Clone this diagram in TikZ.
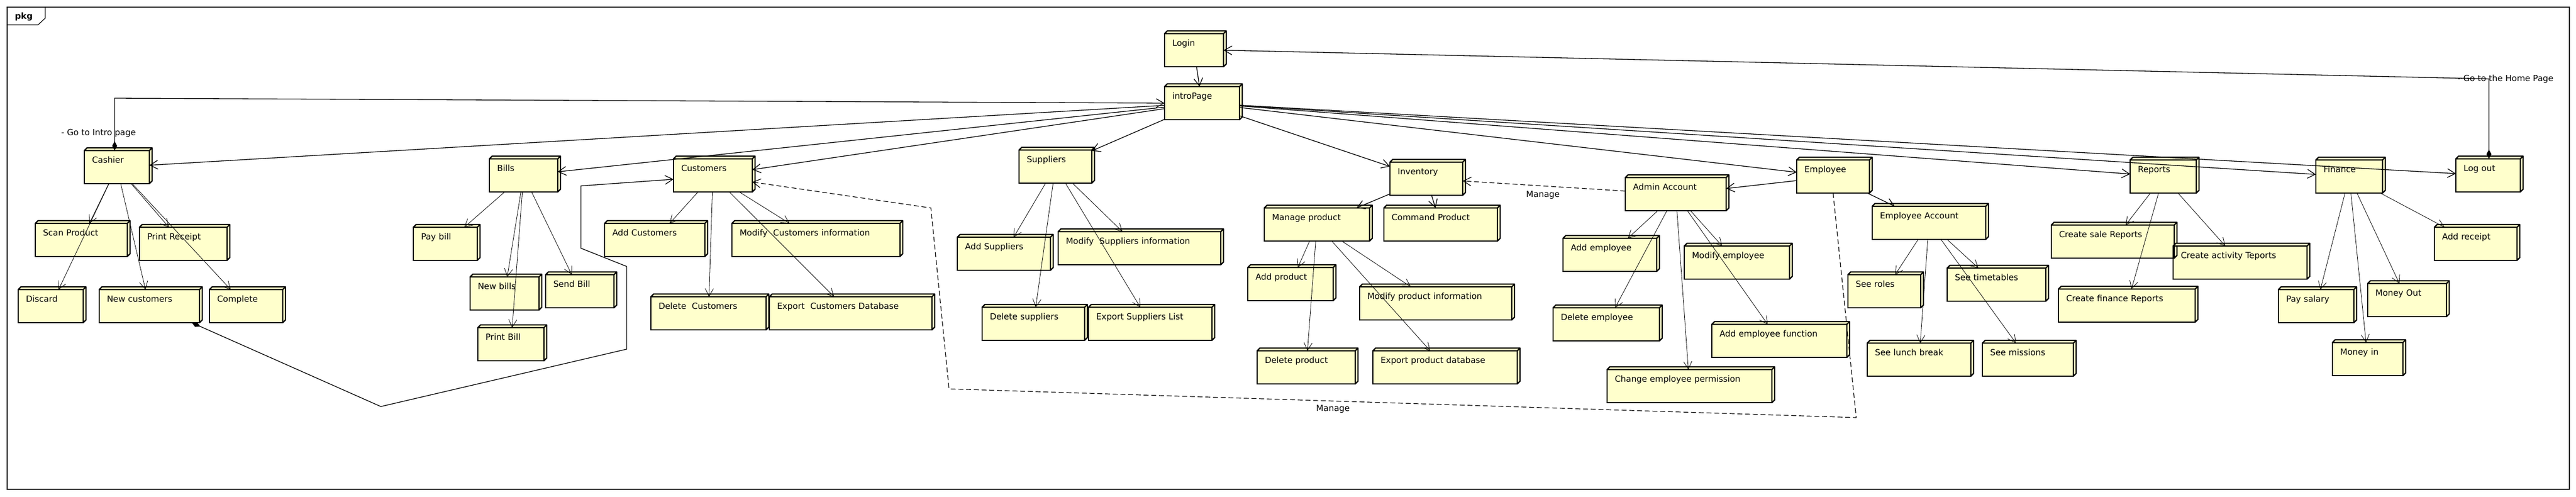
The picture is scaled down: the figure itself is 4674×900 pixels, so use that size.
\documentclass[tikz,border=0pt]{standalone}
\usepackage{fontspec}
\setmainfont{DejaVu Sans}
\usepackage{tikz}
\usetikzlibrary{arrows.meta}
\definecolor{nodefill}{RGB}{255,255,204}

\begin{document}
\begin{tikzpicture}[x=1pt,y=-1pt]
\tikzstyle{pnode}=[rectangle, draw=black, line width=2.3pt, fill=nodefill, anchor=north west, outer sep=0pt, inner xsep=14pt, inner ysep=0pt, text height=22pt, text depth=38pt, align=left, font=\fontsize{15.3}{18}\selectfont]
\tikzstyle{nodeface}=[draw=black, line width=2.3pt, fill=nodefill, line join=round]
\tikzstyle{pkgframe}=[draw=black, line width=1.2pt]
\tikzstyle{linklabel}=[anchor=base west, inner sep=0pt, font=\fontsize{15.3}{18}\selectfont]
\tikzstyle{link}=[draw, line width=1.3pt, -{Straight Barb[length=14pt,width=16pt]}]
\tikzstyle{sub}=[draw, line width=0.8pt, -{Straight Barb[length=14pt,width=15pt]}]
\tikzstyle{manage}=[draw, line width=1.2pt, dash pattern=on 9pt off 5pt, -{Straight Barb[length=14pt,width=16pt]}]
\tikzstyle{compose}=[draw, line width=1.3pt, {Diamond[length=17pt,width=9pt]}-{Straight Barb[length=14pt,width=16pt]}]

\fill[white] (0,0) rectangle (4674,900);
\useasboundingbox (0,0) rectangle (4674,900);
\draw[pkgframe] (13,13) rectangle (4662,887);
\draw[pkgframe] (13,45) -- (69,45) -- (82,33) -- (82,13);
\node[anchor=base west, inner sep=0pt, font=\bfseries\fontsize{15.3}{18}\selectfont] (pkgtitle) at (27,34) {pkg};

	\node[pnode, text width=79pt] (login) at (2113,61) {Login};
	\node[pnode, text width=108pt] (intro) at (2113,157) {introPage};
	\node[pnode, text width=90pt] (cashier) at (153,273) {Cashier};
	\node[pnode, text width=139pt] (scan) at (64,405) {Scan Product};
	\node[pnode, text width=131pt] (receipt) at (253,412) {Print Receipt};
	\node[pnode, text width=90pt] (discard) at (33,525) {Discard};
	\node[pnode, text width=154pt] (newcust) at (180,525) {New customers};
	\node[pnode, text width=105pt] (complete) at (380,525) {Complete};
	\node[pnode, text width=96pt] (bills) at (888,288) {Bills};
	\node[pnode, text width=88pt] (paybill) at (750,412) {Pay bill};
	\node[pnode, text width=97pt] (newbills) at (853,502) {New bills};
	\node[pnode, text width=96pt] (sendbill) at (990,498) {Send Bill};
	\node[pnode, text width=92pt] (printbill) at (867,594) {Print Bill};
	\node[pnode, text width=115pt] (customers) at (1222,288) {Customers};
	\node[pnode, text width=154pt] (addcust) at (1097,405) {Add Customers};
	\node[pnode, text width=277pt] (modcust) at (1328,405) {Modify\ \ Customers information};
	\node[pnode, text width=181pt] (delcust) at (1181,538) {Delete\ \ Customers};
	\node[pnode, text width=267pt] (expcust) at (1396,538) {Export\ \ Customers Database};
	\node[pnode, text width=104pt] (suppliers) at (1849,272) {Suppliers};
	\node[pnode, text width=141pt] (addsup) at (1737,430) {Add Suppliers};
	\node[pnode, text width=267pt] (modsup) at (1920,420) {Modify\ \ Suppliers information};
	\node[pnode, text width=158pt] (delsup) at (1782,557) {Delete suppliers};
	\node[pnode, text width=196pt] (expsup) at (1975,557) {Export Suppliers List};
	\node[pnode, text width=104pt] (inventory) at (2522,294) {Inventory};
	\node[pnode, text width=163pt] (manprod) at (2294,377) {Manage product};
	\node[pnode, text width=178pt] (cmdprod) at (2511,377) {Command Product};
	\node[pnode, text width=127pt] (addprod) at (2264,485) {Add product};
	\node[pnode, text width=248pt] (modprod) at (2467,520) {Modify product information};
	\node[pnode, text width=150pt] (delprod) at (2281,636) {Delete product};
	\node[pnode, text width=234pt] (expprod) at (2491,636) {Export product database};
	\node[pnode, text width=155pt] (admin) at (2949,322) {Admin Account};
	\node[pnode, text width=104pt] (employee) at (3260,290) {Employee};
	\node[pnode, text width=178pt] (empacc) at (3397,374) {Employee Account};
	\node[pnode, text width=142pt] (addemp) at (2836,432) {Add employee};
	\node[pnode, text width=163pt] (modemp) at (3056,446) {Modify employee};
	\node[pnode, text width=165pt] (delemp) at (2818,558) {Delete employee};
	\node[pnode, text width=217pt] (addfunc) at (3106,588) {Add employee function};
	\node[pnode, text width=271pt] (chperm) at (2916,670) {Change employee permission};
	\node[pnode, text width=104pt] (roles) at (3353,498) {See roles};
	\node[pnode, text width=160pt] (lunch) at (3388,622) {See lunch break};
	\node[pnode, text width=151pt] (timetab) at (3533,486) {See timetables};
	\node[pnode, text width=137pt] (missions) at (3597,622) {See missions};
	\node[pnode, text width=92pt] (reports) at (3865,290) {Reports};
	\node[pnode, text width=93pt] (finance) at (4202,290) {Finance};
	\node[pnode, text width=89pt] (logout) at (4456,288) {Log out};
	\node[pnode, text width=195pt] (salereps) at (3722,408) {Create sale Reports};
	\node[pnode, text width=215pt] (actreps) at (3943,446) {Create activity Teports};
	\node[pnode, text width=220pt] (finreps) at (3735,524) {Create finance Reports};
	\node[pnode, text width=109pt] (salary) at (4134,525) {Pay salary};
	\node[pnode, text width=115pt] (moneyout) at (4296,514) {Money Out};
	\node[pnode, text width=100pt] (moneyin) at (4232,621) {Money in};
	\node[pnode, text width=122pt] (addreceipt) at (4417,412) {Add receipt};

\foreach \n in {login,intro,cashier,scan,receipt,discard,newcust,complete,bills,paybill,newbills,sendbill,printbill,customers,addcust,modcust,delcust,expcust,suppliers,addsup,modsup,delsup,expsup,inventory,manprod,cmdprod,addprod,modprod,delprod,expprod,admin,employee,empacc,addemp,modemp,delemp,addfunc,chperm,roles,lunch,timetab,missions,reports,finance,logout,salereps,actreps,finreps,salary,moneyout,moneyin,addreceipt}{
	\path[nodeface] (\n.north west) -- ++(5,-5) -- ([shift={(5,-5)}]\n.north east) -- ([shift={(5,-5)}]\n.south east) -- (\n.south east) -- (\n.north east) -- cycle;
	\draw[nodeface, fill=none] (\n.north east) -- ++(5,-5);
}

	\path [link]
		(login) edge (intro)
		(intro) edge (cashier)
		(intro) edge (bills)
		(intro) edge (customers)
		(intro) edge (suppliers)
		(intro) edge (inventory)
		(intro) edge (employee)
		(intro) edge (reports)
		(intro) edge (finance)
		(intro) edge (logout)
		(employee) edge (admin)
		(employee) edge (empacc)
		(inventory) edge (manprod)
		(inventory) edge (cmdprod);

	\path [sub]
		(cashier) edge (scan)
		(cashier) edge (discard)
		(cashier) edge (newcust)
		(cashier) edge (receipt)
		(cashier) edge (complete)
		(bills) edge (paybill)
		(bills) edge (newbills)
		(bills) edge (printbill)
		(bills) edge (sendbill)
		(customers) edge (addcust)
		(customers) edge (delcust)
		(customers) edge (expcust)
		(customers) edge (modcust)
		(suppliers) edge (addsup)
		(suppliers) edge (delsup)
		(suppliers) edge (expsup)
		(suppliers) edge (modsup)
		(manprod) edge (addprod)
		(manprod) edge (delprod)
		(manprod) edge (modprod)
		(manprod) edge (expprod)
		(admin) edge (addemp)
		(admin) edge (delemp)
		(admin) edge (chperm)
		(admin) edge (modemp)
		(admin) edge (addfunc)
		(empacc) edge (roles)
		(empacc) edge (lunch)
		(empacc) edge (timetab)
		(empacc) edge (missions)
		(reports) edge (salereps)
		(reports) edge (finreps)
		(reports) edge (actreps)
		(finance) edge (salary)
		(finance) edge (moneyin)
		(finance) edge (moneyout)
		(finance) edge (addreceipt);

\coordinate (gointro) at (208,178);
\coordinate (gohome) at (4516,143);
\coordinate (nc1) at (691,737);
\coordinate (nc2) at (1137,633);
\coordinate (nc3) at (1137,483);
\coordinate (nc4) at (1054,450);
\coordinate (nc5) at (1054,337);
\coordinate (mg1) at (3368,757);
\coordinate (mg2) at (1722,705);
\coordinate (mg3) at (1689,377);

\draw[compose] (cashier.north -| gointro) -- (gointro) -- (intro.west);
\draw[compose] (logout.north -| gohome) -- (gohome) -- (login.east);
\draw[compose] ([xshift=-14pt]newcust.south east) -- (nc1) -- (nc2) -- (nc3) -- (nc4) -- (nc5) -- ([yshift=-7pt]customers.west);
\draw[manage] (employee.south) -- (mg1) -- (mg2) -- (mg3) -- ([yshift=-12pt]customers.east);
\path [manage] (admin) edge (inventory);

	\node[linklabel] (gointrotext) at (111,245) {- Go to Intro page};
	\node[linklabel] (gohometext) at (4459,147) {- Go to the Home Page};
	\node[linklabel] (managecust) at (2388,745) {Manage};
	\node[linklabel] (manageinv) at (2769,357) {Manage};
\end{tikzpicture}
\end{document}
